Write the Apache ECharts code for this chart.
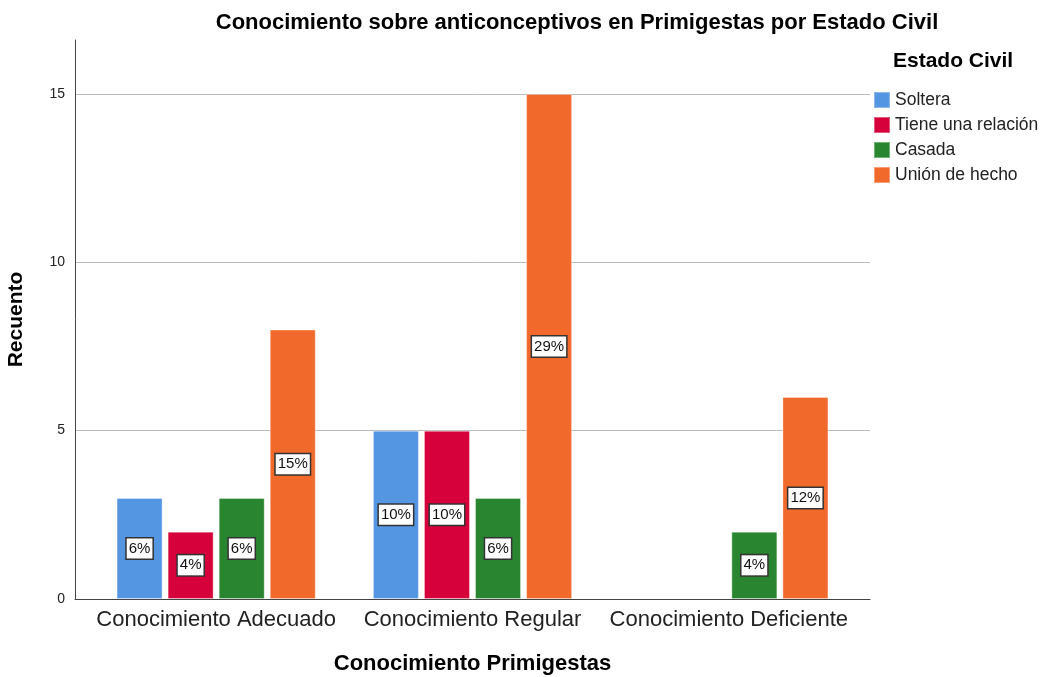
<!DOCTYPE html>
<html>
<head>
<meta charset="utf-8">
<script src="https://cdn.jsdelivr.net/npm/echarts@6/dist/echarts.min.js"></script>
<style>
  html, body { margin: 0; padding: 0; background: #fff; }
  #chart { width: 1044px; height: 677px; }
</style>
</head>
<body>
<div id="chart"></div>
<script>
// categorias y series
const categorias = ['Conocimiento Adecuado', 'Conocimiento Regular', 'Conocimiento Deficiente']
const estados = ['Soltera', 'Tiene una relación', 'Casada', 'Unión de hecho']
const soltera = [3, 5, 0]
const relacion = [2, 5, 0]
const casada = [3, 3, 2]
const unionHecho = [8, 15, 6]
// porcentajes mostrados en las barras
const pctSoltera = ['6%', '10%', null]
const pctRelacion = ['4%', '10%', null]
const pctCasada = ['6%', '6%', '4%']
const pctUnion = ['15%', '29%', '12%']
const colores = ['#5596e3', '#d6003a', '#2a8530', '#f1692b']

const yMax = 16.6
const fuente = 'Arial, Liberation Sans'

const chart = echarts.init(document.getElementById('chart'))

const makeSerie = (name, values, pcts, idx) => ({
  name: name,
  type: 'bar',
  xAxisIndex: 1,
  yAxisIndex: 1,
  barWidth: 46,
  barGap: '11%',
  itemStyle: { color: colores[idx], borderColor: 'rgba(255,255,255,0.35)', borderWidth: 1 },
  label: {
    show: true,
    position: 'inside',
    formatter: (p) => pcts[p.dataIndex] || '',
    color: '#111',
    fontFamily: fuente,
    fontSize: 15,
    backgroundColor: '#fff',
    borderColor: '#333',
    borderWidth: 1.5,
    padding: [3, 2, 2, 2]
  },
  // las barras en cero no llevan borde ni etiqueta
  data: values.map((v, i) => ({
    value: v,
    label: { show: pcts[i] != null },
    itemStyle: v === 0 ? { borderWidth: 0, opacity: 0 } : {}
  }))
})

const option = {
  animation: false,
  textStyle: { fontFamily: fuente },
  color: colores,
  title: [
    {
      text: 'Conocimiento sobre anticonceptivos en Primigestas por Estado Civil',
      left: 577,
      textAlign: 'center',
      top: 12,
      padding: 0,
      textStyle: { fontSize: 22, fontWeight: 'bold', color: '#000', fontFamily: fuente }
    },
    {
      text: 'Estado Civil',
      left: 893,
      top: 51,
      padding: 0,
      textStyle: { fontSize: 21, fontWeight: 'bold', color: '#000', fontFamily: fuente }
    }
  ],
  legend: {
    orient: 'vertical',
    left: 868,
    top: 86,
    itemWidth: 16,
    itemHeight: 16,
    itemGap: 7,
    icon: 'rect',
    data: estados,
    textStyle: { fontSize: 17.5, lineHeight: 16, color: '#222', padding: [0, 0, 0, 0] }
  },
  grid: [
    { left: 75, right: 174, top: 40, bottom: 78, outerBoundsMode: 'none' },
    { left: 88, right: 187, top: 40, bottom: 78, outerBoundsMode: 'none' }
  ],
  xAxis: [
    {
      // solo la linea del eje
      type: 'category',
      gridIndex: 0,
      data: [''],
      axisLine: { lineStyle: { color: '#444', width: 1 } },
      axisTick: { show: false },
      axisLabel: { show: false }
    },
    {
      type: 'category',
      gridIndex: 1,
      data: categorias,
      name: 'Conocimiento Primigestas',
      nameLocation: 'middle',
      nameGap: 54,
      nameTextStyle: { fontSize: 22, fontWeight: 'bold', color: '#000' },
      axisLine: { show: false },
      axisTick: { show: false },
      axisLabel: { fontSize: 22, color: '#222', margin: 10, interval: 0 }
    }
  ],
  yAxis: [
    {
      type: 'value',
      gridIndex: 0,
      min: 0,
      max: yMax,
      interval: 5,
      name: 'Recuento',
      nameLocation: 'middle',
      nameGap: 48,
      nameTextStyle: { fontSize: 21, fontWeight: 'bold', color: '#000' },
      axisLine: { show: true, lineStyle: { color: '#444', width: 1 } },
      axisTick: { show: false },
      axisLabel: { fontSize: 14, color: '#222', showMaxLabel: false, margin: 10 },
      splitLine: { lineStyle: { color: ['#bbb', '#bbb', '#bbb', '#bbb', 'rgba(0,0,0,0)'], width: 1 } }
    },
    {
      type: 'value',
      gridIndex: 1,
      min: 0,
      max: yMax,
      interval: 5,
      show: false,
      splitLine: { show: false }
    }
  ],
  series: [
    makeSerie(estados[0], soltera, pctSoltera, 0),
    makeSerie(estados[1], relacion, pctRelacion, 1),
    makeSerie(estados[2], casada, pctCasada, 2),
    makeSerie(estados[3], unionHecho, pctUnion, 3)
  ]
}

chart.setOption(option)
</script>
</body>
</html>
